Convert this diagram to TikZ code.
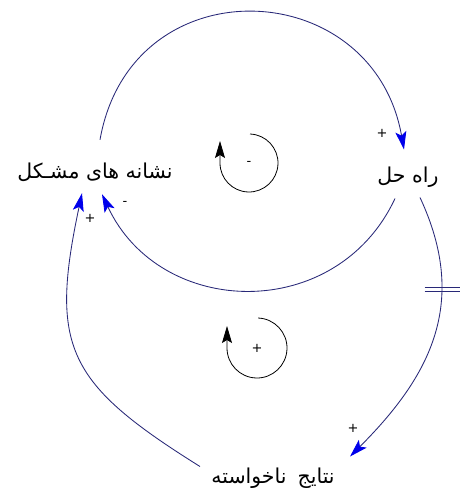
\documentclass[tikz,border=0pt]{standalone}
\usepackage{fontspec}
\newfontfamily\persianfont[Script=Arabic]{DejaVu Sans}
\newfontfamily\signfont{DejaVu Sans}
\TeXXeTstate=1
\usetikzlibrary{arrows.meta}
\definecolor{cldnavy}{RGB}{40,40,120}
\definecolor{cldblue}{RGB}{0,0,235}
\tikzset{
  var/.style={rectangle,inner sep=0pt,minimum width=#1,minimum height=20pt,
              font=\persianfont\fontsize{20.5}{22}\selectfont},
  link/.style={cldnavy,line width=0.85pt,
               -{Stealth[length=18pt,width=11pt,inset=4pt,color=cldblue]}},
  sign/.style={inner sep=0pt,font=\signfont\fontsize{13}{14}\selectfont},
  loopmark/.style={black,line width=0.8pt,
                   -{Stealth[length=17pt,width=10pt,inset=3pt]}},
}
\begin{document}
\begin{tikzpicture}[x=1pt,y=1pt]
  \useasboundingbox[fill=white] (0,0) rectangle (462,490);

  %% Variables
  \node[var=164] (sym)  at (95,318)  {\beginR نشانه های مشـکل\endR};
  \node[var=63]  (sol)  at (408,313) {\beginR راه حل\endR};
  \node[var=140] (side) at (273,12)  {\beginR نتایج\hspace{11pt}ناخواسته\endR};

  %% Causal links
  \draw[link] ([shift={(5,22)}]sym.north)
    to[out=80,in=100,looseness=1.5] ([shift={(-4,17)}]sol.north);
  \draw[link] ([shift={(-13,-11)}]sol.south)
    to[out=245,in=-65,looseness=1.2] ([shift={(7,-12)}]sym.south);
  \draw[link] ([shift={(12,-10)}]sol.south)
    to[out=-65,in=45,looseness=1.1] coordinate[pos=0.32] (dly)
    ([shift={(77,11)}]side.north);
  \draw[link] ([shift={(-73,1)}]side.north)
    to[out=148,in=258,looseness=1.35] ([shift={(-13,-11)}]sym.south);

  %% Delay mark
  \draw[cldnavy,line width=0.85pt] ([shift={(-17,2)}]dly) -- ++(35,0)
                                   ([shift={(-17,-2)}]dly) -- ++(35,0);

  %% Link polarities
  \node[sign] (pTop)   at (382,357) {+};
  \node[sign] (pInner) at (125,287) {-};
  \node[sign] (pLeft)  at (90,272)  {+};
  \node[sign] (pRight) at (353,62)  {+};

  %% Loop markers
  \node[sign] (loopB) at (249,327) {-};
  \draw[loopmark] ([shift={(88:29)}]loopB.center)
    arc[start angle=88,end angle=-180,radius=29] -- ++(0,22);
  \node[sign] (loopR) at (257,142) {+};
  \draw[loopmark] ([shift={(88:30)}]loopR.center)
    arc[start angle=88,end angle=-180,radius=30] -- ++(0,22);

\end{tikzpicture}
\end{document}
